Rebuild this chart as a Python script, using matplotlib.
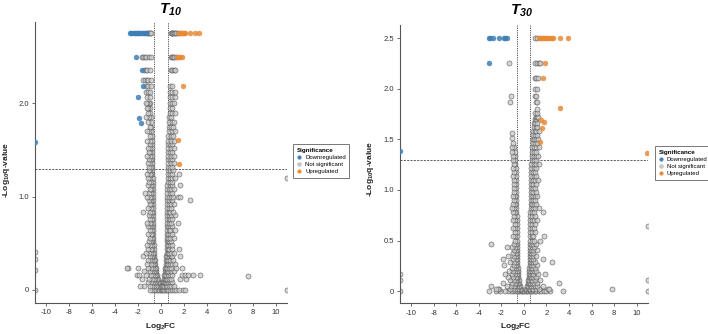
import matplotlib
matplotlib.use('Agg')
import matplotlib.pyplot as plt
from matplotlib.lines import Line2D

plt.rcParams['font.family'] = ['Liberation Sans', 'DejaVu Sans']
plt.rcParams['mathtext.fontset'] = 'custom'
plt.rcParams['mathtext.rm'] = 'Liberation Sans'
plt.rcParams['mathtext.it'] = 'Liberation Sans:italic'
plt.rcParams['mathtext.bf'] = 'Liberation Sans:bold'
plt.rcParams['mathtext.bfit'] = 'Liberation Sans:italic:bold'

# ---- data: rows of (-log10 q, [log2FC values at that level]) ----
# T10
t10_grey_rows = [
    (0.00, [-0.02, -0.12, -0.25, -0.38, -0.5, -0.65, -0.8, -0.95, 0.05, 0.15, 0.28, 0.4, 0.52, 0.65, 0.8, 0.95, 1.15, 1.35, 1.6, 1.95, 2.1]),
    (0.04, [-0.1, -0.2, -0.32, -0.45, -0.6, -0.78, -1.0, -1.5, -1.83, 0.08, 0.18, 0.3, 0.42, 0.55, 0.7, 0.88, 1.1]),
    (0.08, [-0.18, -0.28, -0.4, -0.55, -0.72, -0.9, -1.15, 0.15, 0.25, 0.36, 0.48, 0.62, 0.8, 1.0]),
    (0.12, [-0.25, -0.35, -0.48, -0.62, -0.8, -1.05, -1.7, 0.22, 0.32, 0.42, 0.55, 0.7, 0.9, 1.7, 2.17]),
    (0.16, [-0.32, -0.42, -0.55, -0.7, -0.9, -1.3, -2.09, -1.9, 0.28, 0.38, 0.48, 0.6, 0.78, 1.0, 1.8, 2.1, 2.4, 2.8, 3.4]),
    (0.20, [-0.4, -0.5, -0.62, -0.78, -1.0, -1.45, 0.33, 0.42, 0.52, 0.65, 0.85, 1.15]),
    (0.24, [-0.45, -0.55, -0.68, -0.85, -1.1, -1.97, -2.9, -3.0, 0.38, 0.46, 0.56, 0.7, 0.9, 1.3, 1.8]),
    (0.28, [-0.5, -0.6, -0.72, -0.9, -1.25, 0.42, 0.5, 0.6, 0.75, 0.95, 1.2]),
    (0.32, [-0.55, -0.65, -0.78, -0.95, -1.15, 0.45, 0.53, 0.64, 0.8, 1.05]),
    (0.36, [-0.58, -0.68, -0.82, -1.0, -1.54, 0.47, 0.56, 0.68, 0.85, 1.0, 1.68]),
    (0.40, [-0.62, -0.72, -0.85, -1.05, -1.3, 0.5, 0.58, 0.7, 0.9, 1.15]),
    (0.44, [-0.64, -0.75, -0.9, -1.1, 0.5, 0.6, 0.74, 0.95, 1.6]),
    (0.48, [-0.65, -0.78, -0.92, -1.2, 0.51, 0.62, 0.78, 1.0]),
    (0.52, [-0.66, -0.76, -0.88, -1.05, 0.51, 0.6, 0.72, 0.9]),
    (0.56, [-0.66, -0.8, -0.95, 0.52, 0.64, 0.8, 1.1]),
    (0.60, [-0.67, -0.78, -0.9, -1.15, 0.52, 0.62, 0.75, 0.95]),
    (0.64, [-0.67, -0.82, -0.98, 0.52, 0.66, 0.82, 1.25]),
    (0.68, [-0.68, -0.8, -0.92, -1.1, 0.53, 0.64, 0.78, 1.0]),
    (0.72, [-0.68, -0.84, -1.0, -1.24, 0.53, 0.68, 0.85, 1.5]),
    (0.76, [-0.69, -0.82, -0.95, 0.53, 0.66, 0.8, 0.98]),
    (0.80, [-0.69, -0.86, -1.05, 0.54, 0.7, 0.88, 1.2]),
    (0.84, [-0.7, -0.82, -0.95, -1.54, 0.54, 0.68, 0.82, 1.05]),
    (0.88, [-0.7, -0.88, -1.1, 0.54, 0.72, 0.9]),
    (0.92, [-0.71, -0.84, -0.98, 0.55, 0.7, 0.85, 1.1]),
    (0.96, [-0.71, -0.9, -1.05, 0.55, 0.74, 0.92, 2.52]),
    (1.00, [-0.72, -0.86, -1.0, -1.2, 0.55, 0.72, 0.88, 1.05, 1.45, 1.65]),
    (1.04, [-0.72, -0.9, -1.08, -1.39, 0.56, 0.76, 0.95]),
    (1.08, [-0.73, -0.85, -1.0, 0.56, 0.74, 0.9, 1.15]),
    (1.12, [-0.73, -0.9, -1.12, 0.56, 0.78, 0.98, 1.65]),
    (1.16, [-0.74, -0.88, -1.02, 0.57, 0.75, 0.92]),
    (1.20, [-0.74, -0.92, -1.1, 0.57, 0.8, 1.0, 1.2]),
    (1.24, [-0.75, -0.86, -1.0, -1.2, 0.57, 0.76, 0.94, 1.6]),
    (1.28, [-0.75, -0.92, -1.08, 0.58, 0.82, 1.05]),
    (1.32, [-0.76, -0.88, -1.02, 0.58, 0.78, 0.95]),
    (1.36, [-0.76, -0.94, -1.15, 0.58, 0.84, 1.1]),
    (1.40, [-0.77, -0.9, -1.05, 0.59, 0.8, 0.98]),
    (1.44, [-0.77, -0.95, -1.2, 0.59, 0.86, 1.15]),
    (1.48, [-0.78, -0.92, -1.08, 0.6, 0.8, 1.0]),
    (1.52, [-0.78, -0.98, -1.15, 0.6, 0.88, 1.1]),
    (1.56, [-0.8, -0.95, 0.61, 0.82, 1.0]),
    (1.60, [-0.8, -1.0, -1.2, 0.62, 0.9, 1.15]),
    (1.65, [-0.82, -0.98, 0.64, 0.84, 1.05]),
    (1.70, [-0.84, -1.05, -1.25, 0.66, 0.92, 1.2]),
    (1.75, [-0.86, -1.0, 0.68, 0.86, 1.05]),
    (1.80, [-0.88, -1.1, 0.7, 0.95, 1.15]),
    (1.85, [-0.9, -1.05, -1.3, 0.72, 0.9]),
    (1.90, [-0.92, -1.15, 0.75, 0.98, 1.2]),
    (1.95, [-0.95, -1.1, -1.25, 0.78, 0.92]),
    (2.00, [-0.95, -1.08, -1.2, -1.35, 0.8, 1.0, 1.15]),
    (2.07, [-1.2, -1.0, 0.8, 1.0, 1.2]),
    (2.125, [-1.3, -1.1, -0.95, 0.78, 0.95, 1.2]),
    (2.19, [-1.3, -1.1, -0.9, 0.78, 0.96]),
    (2.25, [-1.55, -1.4, -1.25, -1.1, -0.9]),
    (2.36, [-1.5, -1.35, -1.2, -1.0, 0.9, 1.0, 1.15, 1.25]),
    (2.50, [-1.7, -1.55, -1.4, -1.3, -1.05, -0.9, 0.85, 0.95, 1.05, 1.15, 1.3]),
    (2.75, [-1.2, -1.1, -1.0, -0.92, -0.85, 0.85, 0.92, 1.0, 1.08, 1.15, 1.25, 1.35, 1.45]),
]
t10_edge_rows = [
    (0.00, [-11.0, 11.0]), (0.21, [-11.0]), (0.33, [-11.0]), (0.41, [-11.0]),
    (1.20, [11.0]), (0.15, [7.6]),
]
t10_down_rows = [
    (2.75, [-2.7, -2.6, -2.5, -2.4, -2.3, -2.2, -2.1, -2.0, -1.9, -1.8, -1.7, -1.6, -1.5, -1.4, -1.3]),
    (2.50, [-2.15]), (2.36, [-1.62]), (2.19, [-1.54]), (2.07, [-2.02]),
    (1.84, [-1.94]), (1.79, [-1.74]), (1.59, [-11.0]),
]
t10_up_rows = [
    (2.75, [1.55, 1.62, 1.7, 1.78, 1.85, 1.92, 2.0, 2.08, 2.55, 2.95, 3.3]),
    (2.50, [1.4, 1.5, 1.6, 1.7, 1.8]),
    (2.19, [1.88]), (1.61, [1.5]), (1.35, [1.57]),
]

# T30
t30_grey_rows = [
    (0.00, [-0.05, -0.15, -0.28, -0.4, -0.52, -0.65, -0.8, -0.95, -1.15, -1.4, -1.7, -2.1, -2.5, -3.1,
            0.05, 0.15, 0.28, 0.4, 0.52, 0.65, 0.8, 0.95, 1.1, 1.3, 1.5, 1.75, 2.0, 2.3, 3.5]),
    (0.02, [-0.25, -0.38, -0.5, -0.62, -0.78, -0.95, -1.2, -2.2, -2.3, -2.5, 0.2, 0.32, 0.44, 0.56, 0.7, 0.85, 1.05, 1.3, 2.1, 2.2]),
    (0.05, [-0.35, -0.48, -0.6, -0.75, -0.92, -1.15, -1.5, -2.95, 0.28, 0.4, 0.52, 0.64, 0.78, 0.95, 1.2, 1.7]),
    (0.08, [-0.42, -0.54, -0.66, -0.82, -1.05, -1.9, 0.34, 0.45, 0.56, 0.7, 0.88, 1.15, 3.1]),
    (0.11, [-0.47, -0.58, -0.7, -0.88, -1.2, 0.38, 0.48, 0.6, 0.75, 0.95, 1.4]),
    (0.14, [-0.5, -0.6, -0.74, -0.95, -1.4, 0.42, 0.52, 0.64, 0.8, 1.05]),
    (0.17, [-0.53, -0.63, -0.78, -1.05, -1.67, 0.45, 0.55, 0.68, 0.85, 1.25, 1.9]),
    (0.20, [-0.55, -0.65, -0.8, -1.0, -1.3, 0.47, 0.57, 0.7, 0.9, 1.1]),
    (0.23, [-0.56, -0.67, -0.84, -1.1, 0.49, 0.6, 0.75, 0.95]),
    (0.26, [-0.57, -0.7, -0.9, -1.8, 0.5, 0.62, 0.78, 1.15]),
    (0.29, [-0.58, -0.68, -0.85, -1.2, 0.51, 0.63, 0.8, 1.0, 2.53]),
    (0.32, [-0.59, -0.72, -0.95, -1.9, 0.52, 0.65, 0.82, 1.67]),
    (0.35, [-0.6, -0.7, -0.88, -1.4, 0.52, 0.64, 0.78, 1.05]),
    (0.38, [-0.6, -0.74, -1.0, 0.53, 0.66, 0.85]),
    (0.41, [-0.61, -0.72, -0.9, 0.53, 0.65, 0.8, 1.2]),
    (0.44, [-0.61, -0.76, -1.05, -1.53, 0.54, 0.68, 0.88]),
    (0.47, [-0.62, -0.74, -0.92, -2.94, 0.54, 0.66, 0.82, 1.1]),
    (0.50, [-0.62, -0.78, 0.55, 0.7, 0.9, 1.4]),
    (0.54, [-0.63, -0.75, -0.95, 0.55, 0.68, 0.85, 1.82]),
    (0.58, [-0.63, -0.8, 0.56, 0.72, 0.95]),
    (0.62, [-0.64, -0.76, -0.98, 0.56, 0.7, 0.88]),
    (0.66, [-0.64, -0.82, 0.57, 0.74, 1.0]),
    (0.70, [-0.65, -0.78, -0.95, 0.57, 0.72, 0.9, 1.2]),
    (0.74, [-0.65, -0.84, 0.58, 0.76, 0.95]),
    (0.78, [-0.66, -0.8, -1.0, 0.58, 0.74, 0.9, 1.73]),
    (0.82, [-0.66, -0.86, -1.05, 0.59, 0.78, 1.0, 1.3]),
    (0.86, [-0.67, -0.8, -0.95, 0.59, 0.76, 0.92, 1.1]),
    (0.90, [-0.67, -0.88, 0.6, 0.8, 1.0]),
    (0.94, [-0.68, -0.82, -1.0, 0.6, 0.78, 0.95, 1.2]),
    (0.98, [-0.68, -0.9, 0.61, 0.82, 1.05]),
    (1.02, [-0.69, -0.84, 0.61, 0.8, 0.98]),
    (1.06, [-0.7, -0.92, 0.62, 0.84, 1.1]),
    (1.10, [-0.71, -0.86, 0.62, 0.82, 1.0, 1.25]),
    (1.14, [-0.72, -0.94, 0.63, 0.86, 1.05]),
    (1.18, [-0.73, -0.88, 0.64, 0.84, 1.0]),
    (1.22, [-0.74, -0.96, 0.65, 0.88, 1.1]),
    (1.26, [-0.75, -0.9, 0.66, 0.86, 1.05, 1.3]),
    (1.30, [-0.76, -1.0, 0.68, 0.9, 1.1]),
    (1.34, [-0.78, -0.95, 0.7, 0.88, 1.05, 1.25]),
    (1.38, [-0.8, -1.05, 0.72, 0.92, 1.1]),
    (1.42, [-0.85, -1.02, 0.75, 0.9, 1.05, 1.3]),
    (1.46, [-1.0, 0.78, 0.95, 1.15]),
    (1.50, [0.8, 0.92, 1.05, 1.25]),
    (1.51, [-1.05]),
    (1.54, [0.82, 1.0, 1.15]),
    (1.56, [-1.1]),
    (1.58, [0.85, 0.95, 1.1, 1.3]),
    (1.62, [0.88, 1.05, 1.2]),
    (1.66, [0.9, 1.0, 1.15]),
    (1.70, [0.95, 1.1]),
    (1.72, [1.05, 1.15, 1.25]),
    (1.76, [1.0, 1.2]),
    (1.80, [1.2]),
    (1.87, [-1.25, 1.05, 1.15]),
    (1.93, [-1.13, 1.0, 1.1]),
    (2.00, [1.0, 1.15]),
    (2.11, [0.95, 1.1, 1.25]),
    (2.25, [-1.35, 1.0, 1.15, 1.3, 1.45]),
    (2.50, [1.0, 1.15]),
]
t30_edge_rows = [
    (0.00, [-11.0, 11.0]), (0.11, [-11.0, 11.0]), (0.165, [-11.0]),
    (0.645, [11.0]), (0.02, [7.79]),
]
t30_down_rows = [
    (2.50, [-3.1, -2.97, -2.75, -2.25, -1.8, -1.66, -1.52]),
    (2.25, [-3.1]), (1.39, [-11.0]),
]
t30_up_rows = [
    (2.50, [1.3, 1.42, 1.54, 1.66, 1.78, 1.9, 2.02, 2.15, 2.3, 2.45, 2.6, 3.17, 3.88]),
    (2.25, [1.88]), (2.11, [1.68]), (1.81, [3.2]), (1.69, [1.48]),
    (1.67, [1.82]), (1.61, [1.6]), (1.47, [1.47]), (1.37, [10.95]),
]

fc_cut = 0.58
q_cut = 1.301
x_ticks = [-10, -8, -6, -4, -2, 0, 2, 4, 6, 8, 10]

BLUE = '#3f7fb6'
ORANGE = '#e88a35'
GREY_FILL = '#cacaca'
GREY_EDGE = '#505050'


def unpack(rows):
    xs, ys = [], []
    for level, values in rows:
        xs.extend(values)
        ys.extend([level] * len(values))
    return xs, ys


def draw_panel(ax, grey_rows, edge_rows, down_rows, up_rows, yticks, ylabels, ylim):
    gx, gy = unpack(grey_rows + edge_rows)
    dx, dy = unpack(down_rows)
    ux, uy = unpack(up_rows)
    ax.scatter(gx, gy, s=13, facecolor=GREY_FILL, edgecolor=GREY_EDGE, linewidths=0.5, alpha=0.75, zorder=2)
    ax.scatter(dx, dy, s=13, facecolor=BLUE, edgecolor=BLUE, linewidths=0.3, alpha=0.85, zorder=3)
    ax.scatter(ux, uy, s=13, facecolor=ORANGE, edgecolor=ORANGE, linewidths=0.3, alpha=0.85, zorder=3)

    ax.axhline(q_cut, color='#444444', lw=0.6, ls=(0, (2.5, 1.5)), zorder=1)
    ax.axvline(-fc_cut, color='#444444', lw=0.6, ls=(0, (1.5, 1.2)), zorder=1)
    ax.axvline(fc_cut, color='#444444', lw=0.6, ls=(0, (1.5, 1.2)), zorder=1)

    ax.set_xlim(-11, 11)
    ax.set_ylim(*ylim)
    ax.set_xticks(x_ticks)
    ax.set_xticklabels([str(t) for t in x_ticks])
    ax.set_yticks(yticks)
    ax.set_yticklabels(ylabels)
    for side in ['top', 'right']:
        ax.spines[side].set_visible(False)
    for side in ['left', 'bottom']:
        ax.spines[side].set_color('#555555')
        ax.spines[side].set_linewidth(0.8)
    ax.tick_params(labelsize=5.5, length=2.5, width=0.6, color='#555555',
                   labelcolor='#333333', pad=2)


fig = plt.figure(figsize=(7.08, 3.34), dpi=100)
ax1 = fig.add_axes([0.0494, 0.0928, 0.356, 0.841])
ax2 = fig.add_axes([0.565, 0.092, 0.350, 0.833])

draw_panel(ax1, t10_grey_rows, t10_edge_rows, t10_down_rows, t10_up_rows,
           [0, 1.0, 2.0], ['0', '1.0', '2.0'], (-0.14, 2.87))
draw_panel(ax2, t30_grey_rows, t30_edge_rows, t30_down_rows, t30_up_rows,
           [0, 0.5, 1.0, 1.5, 2.0, 2.5], ['0', '0.5', '1.0', '1.5', '2.0', '2.5'], (-0.12, 2.63))

# titles and axis labels
fig.text(0.2415, 0.972, r'$\mathbfit{T}_{\mathbfit{10}}$', ha='center', va='center', fontsize=11)
fig.text(0.737, 0.968, r'$\mathbfit{T}_{\mathbfit{30}}$', ha='center', va='center', fontsize=11)
for xpos, ypos in [(0.009, 0.49), (0.523, 0.495)]:
    fig.text(xpos, ypos, r'-Log$_{\mathbf{10}}$q-value', rotation=90, ha='center', va='center',
             fontsize=6, fontweight='bold', color='#222222')
for xpos in [0.2275, 0.729]:
    fig.text(xpos, 0.022, r'Log$_{\mathbf{2}}$FC', ha='center', va='center',
             fontsize=6, fontweight='bold', color='#222222')

handles = [
    Line2D([], [], marker='o', ls='', markersize=2.6, markerfacecolor=BLUE, markeredgecolor=BLUE, markeredgewidth=0.3),
    Line2D([], [], marker='o', ls='', markersize=2.6, markerfacecolor=GREY_FILL, markeredgecolor='#999999', markeredgewidth=0.3),
    Line2D([], [], marker='o', ls='', markersize=2.6, markerfacecolor=ORANGE, markeredgecolor=ORANGE, markeredgewidth=0.3),
]
labels = ['Downregulated', 'Not significant', 'Upregulated']
for anchor in [(0.414, 0.569), (0.925, 0.563)]:
    leg = fig.legend(handles, labels, title='Significance', loc='upper left', bbox_to_anchor=anchor,
                     fontsize=4.3, title_fontsize=4.5, frameon=True, fancybox=False,
                     handlelength=0.8, handletextpad=0.6, labelspacing=0.35,
                     borderpad=0.6, borderaxespad=0)
    leg.get_frame().set_edgecolor('#555555')
    leg.get_frame().set_linewidth(0.7)
    leg.get_title().set_fontweight('bold')
    leg._legend_box.align = 'left'

fig.savefig('out.png', dpi=100)
